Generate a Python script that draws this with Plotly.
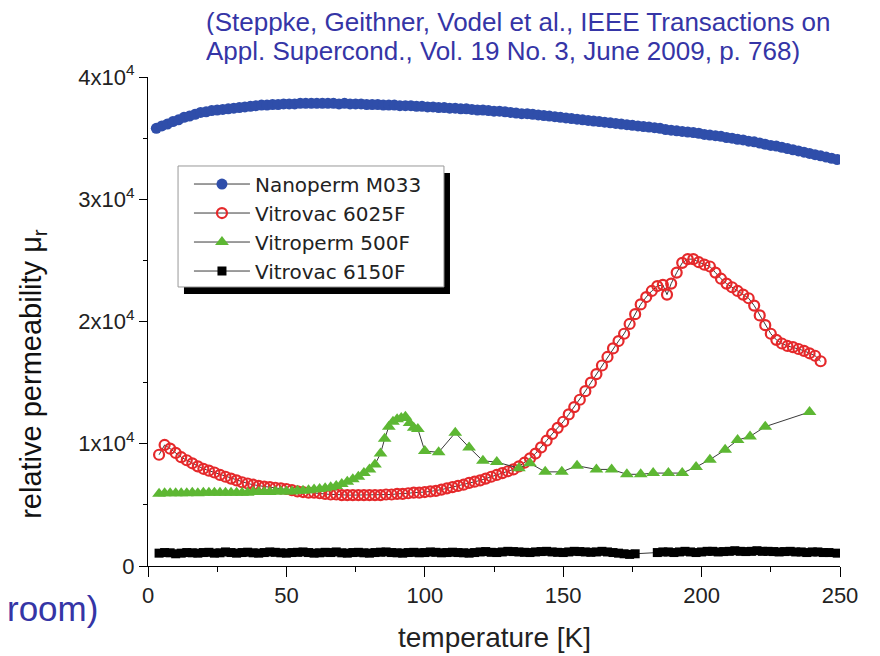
import plotly.graph_objects as go

# ---------------- data ----------------
T_nano = [3,5,7,9,11,13,15,17,19,21,23,25,27,29,31,33,35,37,39,41,43,45,47,49,
          51,53,55,57,59,61,63,65,67,69,71,73,75,77,79,81,83,85,87,89,91,93,95,97,99,
          101,103,105,107,109,111,113,115,117,119,121,123,125,127,129,131,133,135,137,139,
          141,143,145,147,149,151,153,155,157,159,161,163,165,167,169,171,173,175,177,179,
          181,183,185,187,189,191,193,195,197,199,201,203,205,207,209,211,213,215,217,219,
          221,223,225,227,229,231,233,235,237,239,241,243,245,247,249]
mu_nano = [35800,36000,36150,36350,36500,36700,36800,36950,37100,37150,37250,37300,37350,37400,
           37450,37500,37550,37600,37650,37700,37700,37750,37750,37800,37800,37800,37850,37850,
           37850,37850,37850,37850,37850,37800,37850,37800,37800,37800,37750,37750,37750,37700,
           37700,37700,37650,37650,37650,37600,37600,37550,37550,37500,37500,37450,37450,37400,
           37400,37350,37300,37300,37250,37200,37200,37150,37100,37050,37000,37000,36950,36900,
           36850,36800,36750,36700,36650,36600,36550,36500,36450,36400,36350,36300,36250,36200,
           36150,36100,36050,36000,35950,35900,35850,35800,35700,35650,35600,35550,35500,35450,
           35400,35300,35250,35200,35150,35050,35000,34900,34850,34750,34700,34600,34500,34400,
           34350,34250,34150,34050,33950,33850,33750,33650,33550,33450,33350,33250]

T_6025 = [4,6,8,10,12,14,16,18,20,22,24,26,28,30,32,34,36,38,40,42,44,46,48,50,52,54,56,58,60,62,
          64,66,68,70,72,74,76,78,80,82,84,86,88,90,92,94,96,98,100,102,104,106,108,110,112,114,
          116,118,120,122,124,126,128,130,132,134,136,138,140,142,144,146,148,150,152,154,156,158,
          160,162,164,166,168,170,172,174,176,178,180,182,184,186,187.5,189,191,193,195,197,199,
          201,203,205,207,209,211,213,215,217,219,221,223,225,227,229,231,233,235,237,239,241,243]
mu_6025 = [9100,9900,9600,9250,8900,8650,8400,8150,7950,7800,
           7650,7450,7300,7150,7000,6850,6750,6650,6550,6500,
           6450,6400,6350,6300,6200,6100,6050,6000,6000,5950,
           5900,5850,5850,5800,5800,5800,5800,5800,5800,5800,
           5800,5850,5850,5900,5900,5950,6000,6000,6050,6100,
           6150,6250,6350,6450,6550,6650,6800,6900,7000,7150,
           7300,7450,7600,7750,7900,8150,8450,8800,9200,9700,
           10250,10800,11300,11800,12400,13000,13600,14300,15000,15700,
           16400,17100,17800,18400,19000,19800,20600,21400,22000,22500,
           22900,23000,22200,23100,24000,24800,25100,25100,24850,24650,
           24500,24000,23500,23100,22800,22500,22200,21900,21300,20500,
           19700,19000,18500,18200,18000,17900,17750,17600,17400,17200,
           16750]

T_500 = [4,6,8,10,12,14,16,18,20,22,24,26,28,30,32,34,36,38,40,42,
         44,46,48,50,52,54,56,58,60,62,64,66,68,70,72,74,76,78,80,82,
         84,85.5,87,88.5,90,91.5,93,94.5,96,97.5,100,105,111,116,121,126,134,138,143.5,149.5,
         155,162,167.5,173,178,182.5,188,193,198,203,208.5,213,217.5,223,239]
mu_500 = [5900,5950,5950,5950,5950,5950,6000,5950,6000,6000,
          6000,6000,6000,6000,6000,6000,6000,6050,6050,6050,
          6050,6100,6100,6100,6100,6150,6150,6200,6250,6300,
          6350,6450,6550,6700,6900,7100,7300,7600,7900,8300,
          9200,10400,11400,11800,12000,12100,12200,11700,11300,11200,
          9400,9300,10900,9700,8600,8500,8000,8400,7700,7700,
          8200,7900,7900,7500,7500,7600,7600,7600,8100,8700,
          9500,10300,10600,11400,12600]

T_6150 = [4,6,8,10,12,14,16,18,20,22,24,26,28,30,32,34,36,38,40,42,44,46,48,50,52,54,56,58,60,62,
          64,66,68,70,72,74,76,78,80,82,84,86,88,90,92,94,96,98,100,102,104,106,108,110,112,114,
          116,118,120,122,124,126,128,130,132,134,136,138,140,142,144,146,148,150,152,154,156,158,
          160,162,164,166,168,170,172,174,176,
          184,186,188,190,192,194,196,198,200,202,204,206,208,210,212,214,216,218,220,222,224,226,
          228,230,232,234,236,238,240,242,244,246,249]
mu_6150 = [1050,1100,1080,1000,1050,1100,1080,1050,1100,1120,
           1050,1080,1150,1100,1050,1100,1130,1080,1050,1100,
           1150,1120,1080,1050,1100,1120,1150,1100,1050,1080,
           1120,1100,1150,1080,1050,1100,1120,1080,1050,1100,
           1130,1150,1100,1080,1050,1100,1120,1080,1100,1150,
           1120,1080,1100,1130,1100,1080,1050,1100,1150,1180,
           1120,1100,1150,1200,1180,1150,1120,1100,1150,1180,
           1200,1150,1120,1100,1150,1200,1180,1150,1120,1150,
           1200,1150,1100,1050,1000,950,1000,
           1100,1150,1150,1100,1150,1200,1150,1100,1150,1200,
           1200,1150,1180,1200,1250,1200,1180,1200,1250,1200,
           1200,1180,1150,1180,1200,1150,1150,1100,1150,1150,
           1100,1100,1050]

y_tickvals = [0, 10000, 20000, 30000, 40000]
y_ticktext = ["0", "1x10<sup>4</sup>", "2x10<sup>4</sup>", "3x10<sup>4</sup>", "4x10<sup>4</sup>"]
x_tickvals = [0, 50, 100, 150, 200, 250]

# ---------------- figure ----------------
LINE = dict(color="#3a3a3a", width=1)
fig = go.Figure()
fig.add_trace(go.Scatter(x=T_nano, y=mu_nano, name="Nanoperm M033", mode="lines+markers",
                         line=LINE, marker=dict(symbol="circle", size=11, color="#2f4eaa")))
fig.add_trace(go.Scatter(x=T_6025, y=mu_6025, name="Vitrovac 6025F", mode="lines+markers",
                         line=LINE, marker=dict(symbol="circle-open", size=10, color="#e5292b",
                                                line=dict(width=2.2, color="#e5292b"))))
fig.add_trace(go.Scatter(x=T_500, y=mu_500, name="Vitroperm 500F", mode="lines+markers",
                         line=LINE, marker=dict(symbol="triangle-up", size=12, color="#5db733")))
fig.add_trace(go.Scatter(x=T_6150, y=mu_6150, name="Vitrovac 6150F", mode="lines+markers",
                         line=LINE, marker=dict(symbol="square", size=9, color="#000000")))

SANS = "Liberation Sans, Arial, sans-serif"
TICKFONT = dict(family=SANS, size=22, color="#222222")
BLUE = "#3535a6"

fig.update_layout(
    width=880, height=656,
    margin=dict(l=140, r=48, t=69, b=98),
    paper_bgcolor="white", plot_bgcolor="white",
    showlegend=True,
    legend=dict(x=0.0592, y=0.821, xanchor="left", yanchor="top",
                bgcolor="rgba(0,0,0,0)", borderwidth=0,
                font=dict(family="DejaVu Sans, sans-serif", size=20, color="#222222"),
                itemwidth=56, tracegroupgap=0),
    xaxis=dict(range=[0, 250], tickmode="array", tickvals=x_tickvals,
               showline=True, linecolor="black", linewidth=1, mirror=False,
               ticks="outside", ticklen=10, tickcolor="black", tickwidth=1,
               minor=dict(ticks="outside", ticklen=5, dtick=25, tick0=0, tickcolor="black"),
               showgrid=False, zeroline=False, tickfont=TICKFONT),
    yaxis=dict(range=[0, 40000], tickmode="array", tickvals=y_tickvals, ticktext=y_ticktext,
               showline=True, linecolor="black", linewidth=1, mirror=False,
               ticks="outside", ticklen=8, tickcolor="black", tickwidth=1,
               minor=dict(ticks="outside", ticklen=4, dtick=5000, tick0=0, tickcolor="black"),
               showgrid=False, zeroline=False, tickfont=TICKFONT),
)

# legend shadow and box
fig.add_shape(type="rect", xref="paper", yref="paper",
              x0=0.052, x1=0.4364, y0=0.5562, y1=0.8037,
              fillcolor="black", line=dict(width=0), layer="above")
fig.add_shape(type="rect", xref="paper", yref="paper",
              x0=0.0434, x1=0.4277, y0=0.5706, y1=0.818,
              fillcolor="white", line=dict(width=1, color="#999999"), layer="above")

# axis titles
fig.add_annotation(text="temperature [K]", xref="paper", yref="paper", x=0.5, y=-0.147,
                   showarrow=False, xanchor="center", yanchor="middle",
                   font=dict(family=SANS, size=28, color="#222222"))
fig.add_annotation(text="relative permeability \u03bc<sub>r</sub>", xref="paper", yref="paper",
                   x=-0.1662, y=0.393, textangle=-90, showarrow=False,
                   xanchor="center", yanchor="middle",
                   font=dict(family=SANS, size=29, color="#111111"))

# citation text
fig.add_annotation(text="(Steppke, Geithner, Vodel et al., IEEE Transactions on",
                   xref="paper", yref="paper", x=0.0824, y=1.1125, showarrow=False,
                   xanchor="left", yanchor="middle", borderpad=0, height=27,
                   font=dict(family=SANS, size=26, color=BLUE))
fig.add_annotation(text="Appl. Supercond., Vol. 19 No. 3, June 2009, p. 768)",
                   xref="paper", yref="paper", x=0.0824, y=1.0552, showarrow=False,
                   xanchor="left", yanchor="middle", borderpad=0, height=27,
                   font=dict(family=SANS, size=26, color=BLUE))
fig.add_annotation(text="room)", xref="paper", yref="paper", x=-0.0694, y=-0.0859,
                   showarrow=False, xanchor="right", yanchor="middle",
                   font=dict(family=SANS, size=35, color=BLUE))

fig.write_html("out.html")
